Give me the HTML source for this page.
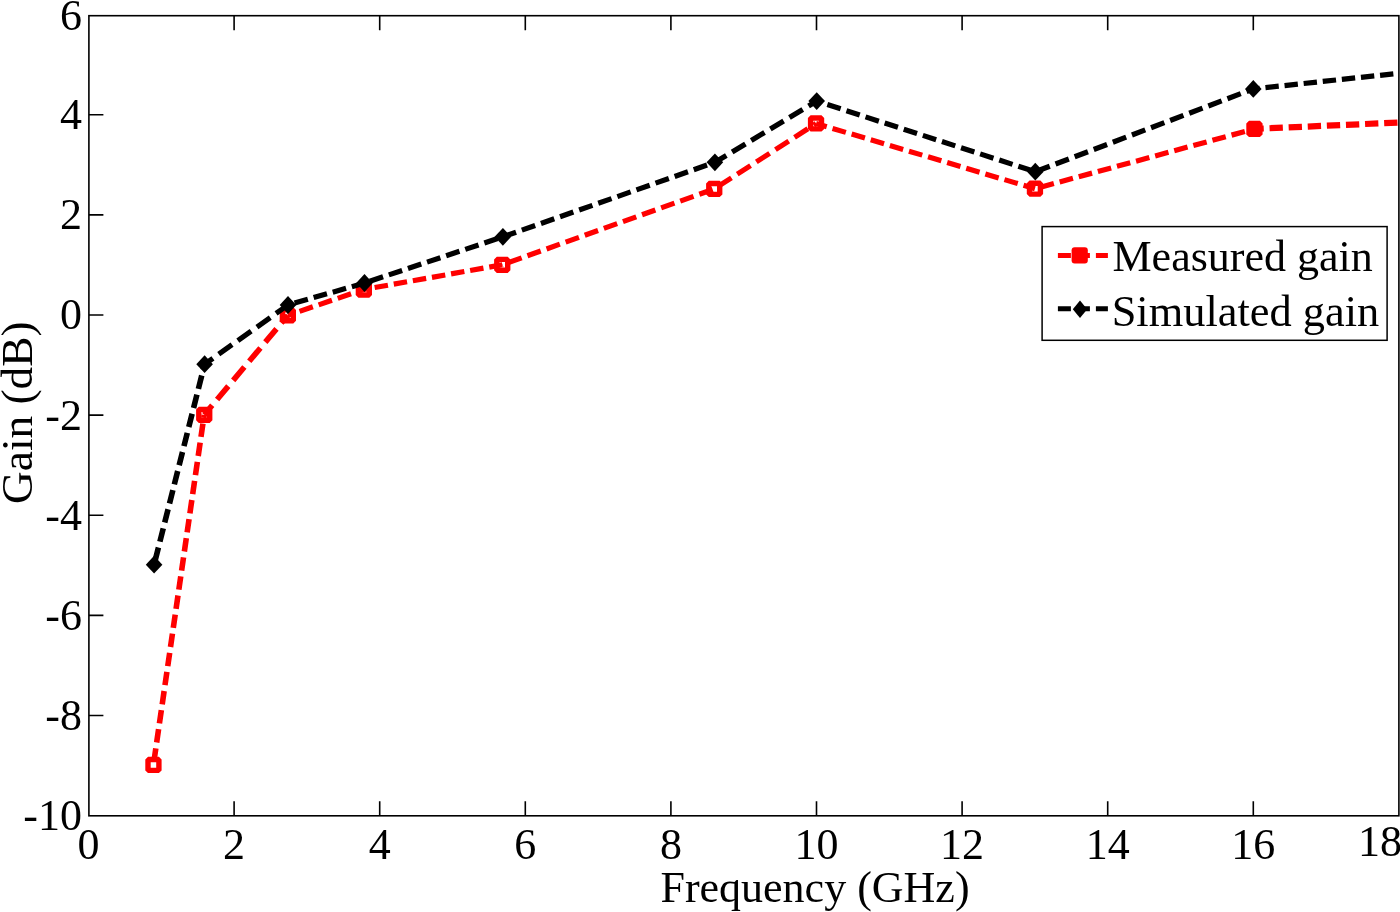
<!DOCTYPE html>
<html><head><meta charset="utf-8"><title>Gain vs Frequency</title>
<style>html,body{margin:0;padding:0;background:#fff;overflow:hidden}svg{display:block;will-change:transform}</style>
</head><body><svg width="1400" height="912" viewBox="0 0 1400 912"><defs><clipPath id="c"><rect x="87.9" y="14.7" width="1310.6" height="802.1"/></clipPath></defs><g clip-path="url(#c)"><path d="M204.20,414.80L203.76,417.80M202.92,423.60L200.99,436.90M200.15,442.70L198.22,456.00M197.38,461.80L195.45,475.10M194.61,480.90L192.68,494.20M191.84,500.00L189.91,513.30M189.07,519.10L187.14,532.40M186.30,538.20L184.37,551.50M183.53,557.30L181.60,570.60M180.76,576.40L178.83,589.70M177.99,595.50L176.06,608.80M175.22,614.60L173.29,627.90M172.45,633.70L170.52,647.00M169.68,652.80L167.75,666.10M166.91,671.90L164.98,685.20M164.13,691.00L162.21,704.30M161.36,710.10L159.43,723.40M158.59,729.20L156.66,742.50M155.82,748.30L153.89,761.60" stroke="#ff0000" stroke-width="5.6" fill="none"/><path d="M287.90,315.30L281.38,323.05M276.50,328.85L265.31,342.15M260.43,347.95L249.25,361.25M244.37,367.05L233.18,380.35M228.30,386.15L217.11,399.45M212.23,405.25L204.20,414.80" stroke="#ff0000" stroke-width="5.6" fill="none"/><path d="M287.90,315.30L293.75,313.31M299.55,311.34L312.85,306.82M318.65,304.85L331.95,300.33M337.75,298.35L351.05,293.83M356.85,291.86L363.80,289.50" stroke="#ff0000" stroke-width="5.2" fill="none"/><path d="M363.80,289.50L368.85,288.60M374.65,287.56L387.95,285.19M393.75,284.15L407.05,281.78M412.85,280.75L426.15,278.37M431.95,277.34L445.25,274.96M451.05,273.93L464.35,271.56M470.15,270.52L483.45,268.15M489.25,267.11L502.20,264.80" stroke="#ff0000" stroke-width="5.2" fill="none"/><path d="M502.20,264.80L502.55,264.67M508.35,262.60L521.65,257.84M527.45,255.76L540.75,251.00M546.55,248.93L559.85,244.17M565.65,242.09L578.95,237.34M584.75,235.26L598.05,230.50M603.85,228.42L617.15,223.67M622.95,221.59L636.25,216.83M642.05,214.75L655.35,210.00M661.15,207.92L674.45,203.16M680.25,201.08L693.55,196.33M699.35,194.25L712.65,189.49" stroke="#ff0000" stroke-width="5.2" fill="none"/><path d="M718.15,186.43L731.45,177.88M737.25,174.16L750.55,165.61M756.35,161.89L769.65,153.34M775.45,149.62L788.75,141.07M794.55,137.34L807.85,128.80M813.65,125.07L816.10,123.50" stroke="#ff0000" stroke-width="5.2" fill="none"/><path d="M816.10,123.50L826.75,126.67M832.55,128.40L845.85,132.37M851.65,134.09L864.95,138.06M870.75,139.79L884.05,143.75M889.85,145.48L903.15,149.44M908.95,151.17L922.25,155.13M928.05,156.86L941.35,160.82M947.15,162.55L960.45,166.51M966.25,168.24L979.55,172.21M985.35,173.93L998.65,177.90M1004.45,179.63L1017.75,183.59M1023.55,185.32L1034.90,188.70" stroke="#ff0000" stroke-width="5.2" fill="none"/><path d="M1040.55,187.16L1053.85,183.54M1059.65,181.96L1072.95,178.33M1078.75,176.75L1092.05,173.13M1097.85,171.55L1111.15,167.93M1116.95,166.35L1130.25,162.72M1136.05,161.14L1149.35,157.52M1155.15,155.94L1168.45,152.32M1174.25,150.74L1187.55,147.11M1193.35,145.53L1206.65,141.91M1212.45,140.33L1225.75,136.71M1231.55,135.13L1244.85,131.50M1250.65,129.92L1254.40,128.90" stroke="#ff0000" stroke-width="5.2" fill="none"/><path d="M1254.40,128.90L1263.75,128.49M1269.55,128.23L1282.85,127.65M1288.65,127.39L1301.95,126.80M1307.75,126.55L1321.05,125.96M1326.85,125.71L1340.15,125.12M1345.95,124.86L1359.25,124.28M1365.05,124.02L1378.35,123.44M1384.15,123.18L1397.45,122.59M1403.25,122.34L1416.55,121.75" stroke="#ff0000" stroke-width="6.2" fill="none"/><rect x="148.0" y="759.5" width="10.9" height="10.9" fill="none" stroke="#ff0000" stroke-width="5.4" stroke-linejoin="bevel"/><rect x="198.8" y="409.4" width="10.9" height="10.9" fill="none" stroke="#ff0000" stroke-width="5.4" stroke-linejoin="bevel"/><rect x="282.4" y="309.9" width="10.9" height="10.9" fill="none" stroke="#ff0000" stroke-width="5.4" stroke-linejoin="bevel"/><rect x="358.4" y="284.1" width="10.9" height="10.9" fill="none" stroke="#ff0000" stroke-width="5.4" stroke-linejoin="bevel"/><rect x="496.8" y="259.4" width="10.9" height="10.9" fill="none" stroke="#ff0000" stroke-width="5.4" stroke-linejoin="bevel"/><rect x="708.8" y="183.5" width="10.9" height="10.9" fill="none" stroke="#ff0000" stroke-width="5.4" stroke-linejoin="bevel"/><rect x="810.6" y="118.0" width="10.9" height="10.9" fill="none" stroke="#ff0000" stroke-width="5.4" stroke-linejoin="bevel"/><rect x="1029.5" y="183.2" width="10.9" height="10.9" fill="none" stroke="#ff0000" stroke-width="5.4" stroke-linejoin="bevel"/><rect x="1249.0" y="123.5" width="10.9" height="10.9" fill="none" stroke="#ff0000" stroke-width="5.4" stroke-linejoin="bevel"/><rect x="1250.9" y="125.4" width="7" height="7" fill="#ff0000"/><path d="M204.60,364.20L203.20,369.75M201.74,375.55L198.39,388.85M196.93,394.65L193.58,407.95M192.12,413.75L188.77,427.05M187.31,432.85L183.96,446.15M182.50,451.95L179.15,465.25M177.69,471.05L174.34,484.35M172.88,490.15L169.53,503.45M168.07,509.25L164.72,522.55M163.26,528.35L159.91,541.65M158.44,547.45L155.09,560.75" stroke="#000" stroke-width="5.6" fill="none"/><path d="M204.60,364.20L212.95,358.27M218.75,354.16L232.05,344.72M237.85,340.60L251.15,331.16M256.95,327.04L270.25,317.60M276.05,313.48L288.00,305.00" stroke="#000" stroke-width="5.2" fill="none"/><path d="M288.00,305.00L288.75,304.78M294.55,303.12L307.85,299.29M313.65,297.62L326.95,293.80M332.75,292.13L346.05,288.31M351.85,286.64L364.50,283.00" stroke="#000" stroke-width="5.2" fill="none"/><path d="M369.75,281.25L383.05,276.81M388.85,274.87L402.15,270.43M407.95,268.50L421.25,264.06M427.05,262.12L440.35,257.68M446.15,255.74L459.45,251.30M465.25,249.37L478.55,244.93M484.35,242.99L497.65,238.55" stroke="#000" stroke-width="5.2" fill="none"/><path d="M502.90,236.80L516.05,232.18M521.85,230.14L535.15,225.47M540.95,223.43L554.25,218.75M560.05,216.72L573.35,212.04M579.15,210.00L592.45,205.33M598.25,203.29L611.55,198.62M617.35,196.58L630.65,191.91M636.45,189.87L649.75,185.19M655.55,183.16L668.85,178.48M674.65,176.44L687.95,171.77M693.75,169.73L707.05,165.06M712.85,163.02L714.90,162.30" stroke="#000" stroke-width="5.2" fill="none"/><path d="M714.90,162.30L726.35,155.42M732.15,151.93L745.45,143.93M751.25,140.45L764.55,132.45M770.35,128.96L783.65,120.97M789.45,117.48L802.75,109.49M808.55,106.00L816.70,101.10" stroke="#000" stroke-width="5.2" fill="none"/><path d="M816.70,101.10L821.55,102.67M827.35,104.54L840.65,108.83M846.45,110.71L859.75,115.00M865.55,116.88L878.85,121.17M884.65,123.05L897.95,127.34M903.75,129.21L917.05,133.51M922.85,135.38L936.15,139.68M941.95,141.55L955.25,145.85M961.05,147.72L974.35,152.02M980.15,153.89L993.45,158.18M999.25,160.06L1012.55,164.35M1018.35,166.23L1031.65,170.52" stroke="#000" stroke-width="5.2" fill="none"/><path d="M1036.45,171.26L1049.75,166.21M1055.55,164.01L1068.85,158.96M1074.65,156.75L1087.95,151.70M1093.75,149.50L1107.05,144.45M1112.85,142.25L1126.15,137.19M1131.95,134.99L1145.25,129.94M1151.05,127.74L1164.35,122.68M1170.15,120.48L1183.45,115.43M1189.25,113.23L1202.55,108.18M1208.35,105.97L1221.65,100.92M1227.45,98.72L1240.75,93.67M1246.55,91.46L1253.30,88.90" stroke="#000" stroke-width="5.2" fill="none"/><path d="M1253.30,88.90L1259.65,88.22M1265.45,87.60L1278.75,86.17M1284.55,85.54L1297.85,84.12M1303.65,83.49L1316.95,82.07M1322.75,81.44L1336.05,80.01M1341.85,79.39L1355.15,77.96M1360.95,77.34L1374.25,75.91M1380.05,75.29L1393.35,73.86M1399.15,73.24L1412.45,71.81M1418.25,71.19L1420.00,71.00" stroke="#000" stroke-width="5.2" fill="none"/><polygon points="154.1,555.8 162.4,564.7 154.1,573.6 145.8,564.7" fill="#000"/><polygon points="204.6,355.3 212.9,364.2 204.6,373.1 196.3,364.2" fill="#000"/><polygon points="288.0,296.1 296.3,305.0 288.0,313.9 279.7,305.0" fill="#000"/><polygon points="364.5,274.1 372.8,283.0 364.5,291.9 356.2,283.0" fill="#000"/><polygon points="502.9,227.9 511.2,236.8 502.9,245.7 494.6,236.8" fill="#000"/><polygon points="714.9,153.4 723.2,162.3 714.9,171.2 706.6,162.3" fill="#000"/><polygon points="816.7,92.2 825.0,101.1 816.7,110.0 808.4,101.1" fill="#000"/><polygon points="1035.3,162.8 1043.6,171.7 1035.3,180.6 1027.0,171.7" fill="#000"/><polygon points="1253.3,80.0 1261.6,88.9 1253.3,97.8 1245.0,88.9" fill="#000"/></g><rect x="88.9" y="15.7" width="1310.0" height="800.0999999999999" fill="none" stroke="#000" stroke-width="1.6"/><path d="M234.1,815.8V801.3M234.1,15.7V30.2M379.7,815.8V801.3M379.7,15.7V30.2M525.3,815.8V801.3M525.3,15.7V30.2M670.9,815.8V801.3M670.9,15.7V30.2M816.5,815.8V801.3M816.5,15.7V30.2M962.1,815.8V801.3M962.1,15.7V30.2M1107.7,815.8V801.3M1107.7,15.7V30.2M1253.3,815.8V801.3M1253.3,15.7V30.2M88.9,715.5H103.4M88.9,615.4H103.4M88.9,515.2H103.4M88.9,415.1H103.4M88.9,315.0H103.4M88.9,214.9H103.4M88.9,114.8H103.4" stroke="#000" stroke-width="1.6" fill="none"/><g font-family='"Liberation Serif", serif' font-size="44" fill="#000"><text x="88.5" y="858.6" text-anchor="middle">0</text><text x="234.1" y="858.6" text-anchor="middle">2</text><text x="379.7" y="858.6" text-anchor="middle">4</text><text x="525.3" y="858.6" text-anchor="middle">6</text><text x="670.9" y="858.6" text-anchor="middle">8</text><text x="816.5" y="858.6" text-anchor="middle">10</text><text x="962.1" y="858.6" text-anchor="middle">12</text><text x="1107.7" y="858.6" text-anchor="middle">14</text><text x="1253.3" y="858.6" text-anchor="middle">16</text><text x="1358.1" y="856.1">18</text><text x="82" y="830.3" text-anchor="end">-10</text><text x="82" y="730.4" text-anchor="end">-8</text><text x="82" y="629.5" text-anchor="end">-6</text><text x="82" y="529.8" text-anchor="end">-4</text><text x="82" y="429.9" text-anchor="end">-2</text><text x="82" y="328.8" text-anchor="end">0</text><text x="82" y="229.4" text-anchor="end">2</text><text x="82" y="128.8" text-anchor="end">4</text><text x="82" y="29.7" text-anchor="end">6</text><text x="815" y="901.5" text-anchor="middle">Frequency (GHz)</text><text transform="translate(32,412.7) rotate(-90)" text-anchor="middle" textLength="182.5" lengthAdjust="spacingAndGlyphs">Gain (dB)</text></g><rect x="1042.1" y="226.6" width="345" height="113.7" fill="#fff" stroke="#000" stroke-width="1.5"/><line x1="1057.9" y1="255.5" x2="1107.9" y2="255.5" stroke="#ff0000" stroke-width="5" stroke-dasharray="13 6"/><rect x="1071.6" y="247.3" width="16.2" height="16.2" rx="3" fill="#ff0000"/><line x1="1057.9" y1="308.7" x2="1107.9" y2="308.7" stroke="#000" stroke-width="5" stroke-dasharray="13 6"/><polygon points="1080.0,300.5 1087.2,309.2 1080.0,317.9 1072.8,309.2" fill="#000"/><g font-family='"Liberation Serif", serif' font-size="44" fill="#000"><text x="1112.5" y="270.5">Measured gain</text><text x="1111.7" y="326.3" textLength="267.5" lengthAdjust="spacingAndGlyphs">Simulated gain</text></g></svg></body></html>
